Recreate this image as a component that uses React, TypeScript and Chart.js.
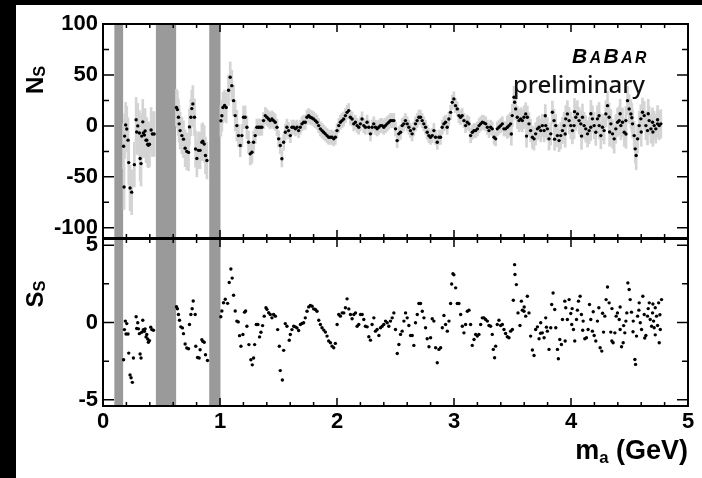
import React, { useEffect, useRef } from "react";
import { Chart, registerables } from "chart.js";
Chart.register(...registerables);

// ---------------- axis / layout values ----------------
const X_LABELS = [0, 1, 2, 3, 4, 5];
const X_MINOR = [0, 0.2, 0.4, 0.6, 0.8, 1, 1.2, 1.4, 1.6, 1.8, 2, 2.2, 2.4, 2.6, 2.8, 3, 3.2, 3.4, 3.6, 3.8, 4, 4.2, 4.4, 4.6, 4.8, 5];
const N_LABELS = [-100, -50, 0, 50, 100];
const N_MINOR = [-100, -75, -50, -25, 0, 25, 50, 75, 100];
const S_LABELS = [-5, 0, 5];
const S_MINOR = [-5, -2.5, 0, 2.5, 5];

// excluded mass regions (grey bands)
const BAND_LO = [0.097, 0.452, 0.908];
const BAND_HI = [0.172, 0.625, 1.004];

// uncertainty on N_S by mass region (step table)
const ERR_MASS = [0.1, 0.45, 0.9, 1.15, 1.3, 1.6, 3.45, 3.9, 4.3];
const ERR_VAL = [22, 18, 15, 11, 8, 7, 11, 13, 14];

// ---------------- N_S (top panel) ----------------
const N_R1_MASS = [0.176, 0.180, 0.185, 0.194, 0.203, 0.214, 0.220, 0.231, 0.245, 0.268, 0.283, 0.288, 0.297, 0.311, 0.317, 0.325, 0.331, 0.340, 0.345, 0.354, 0.360, 0.368, 0.374, 0.382, 0.388, 0.397, 0.411, 0.422, 0.437];
const N_R1 = [-20, -60, -10, 1, -3, -14, -36, -61, -65, -38, 6, -6, 0, -7, -32, -37, -10, 4, -7, -9, -5, -14, -14, -18, -19, -18, -4, -8, -8];

const N_R2_MASS = [0.628, 0.636, 0.645, 0.651, 0.659, 0.674, 0.688, 0.702, 0.716, 0.731, 0.739, 0.751, 0.759, 0.768, 0.782, 0.791, 0.802, 0.816, 0.830, 0.845, 0.853, 0.865, 0.876, 0.888];
const N_R2 = [18, 16, 8.5, 2, -4.6, -9.5, -13, -22, -25, -26, -1, 8.5, 17, 21.6, 8.5, -22.6, -32, -24, -24, -16, -15, -17.7, -29, -34];

const N_R3_MASS = [1.008, 1.016, 1.025, 1.039, 1.053, 1.073, 1.087,
  1.101, 1.116, 1.130, 1.144, 1.158, 1.173, 1.187, 1.201, 1.215, 1.230, 1.244, 1.258, 1.273, 1.287, 1.301, 1.315, 1.330, 1.344, 1.358, 1.372,
  1.387, 1.401, 1.415, 1.429, 1.444, 1.458, 1.472, 1.487, 1.501, 1.515, 1.529, 1.544, 1.558, 1.572, 1.586, 1.601, 1.615, 1.629, 1.644, 1.658,
  1.672, 1.686, 1.701, 1.715, 1.729, 1.743, 1.758, 1.772, 1.786, 1.800, 1.815, 1.829, 1.843, 1.858, 1.872, 1.886, 1.900, 1.915, 1.929, 1.943,
  1.957, 1.972, 1.986, 2.000, 2.015, 2.029, 2.043, 2.057, 2.072, 2.086, 2.100, 2.114, 2.129, 2.143, 2.157, 2.172, 2.186, 2.200, 2.214, 2.229,
  2.243, 2.257, 2.271, 2.286, 2.300, 2.314, 2.329, 2.343, 2.357, 2.371, 2.386, 2.400, 2.414, 2.428, 2.443, 2.457, 2.471, 2.486, 2.500, 2.514,
  2.528, 2.543, 2.557, 2.571, 2.585, 2.600, 2.614, 2.628, 2.642, 2.657, 2.671, 2.685, 2.700, 2.714, 2.728, 2.742, 2.757, 2.771, 2.785, 2.799,
  2.814, 2.828, 2.842, 2.857, 2.871, 2.885, 2.899, 2.914, 2.928, 2.942, 2.956, 2.971, 2.985, 2.999, 3.013, 3.028, 3.042, 3.056, 3.070, 3.085,
  3.099, 3.113, 3.128];
const N_R3 = [5, 10, 18, 20, 18, 35, 47.7,
  39.5, 24.8, 10.1, 0.3, -9.5, -19.3, -9.5, 8.5, 8.5, -1.3, -16, -27.4, -25.8, -16, -9.5, -1.3, -1.3, -1.3, -1.3, 5.2,
  10.1, 8.5, 6.8, 5.2, 6.8, 5.2, 3.6, -1.3, -12.7, -19.3, -32.3, -16, -6.2, -1.3, -4.6, -9.5, -1.3, -1.3, -2.9, -1.3,
  -4.6, -1.3, 2, 3.6, 3.6, 8.5, 10.1, 8.5, 7.8, 6.8, 5.2, 3.6, 0.3, -2.9, -4.6, -6.2, -7.8, -9.5, -11.1, -11.1,
  -11.1, -12.7, -11.1, -4.6, 0.3, 3.6, 5.2, 6.8, 10.1, 13.3, 15, 8.5, 6.8, 2, 3.6, 0.3, -1.3, 2, 6.8, 0.3,
  -1.3, 3.6, -1.3, -7.8, -1.3, 2, -1.3, -2.9, -1.3, 0.3, 0.3, -1.3, 0.3, 2, 3.6, 5.2, 5.2, 5.2, -2.9, -14.4,
  -7.8, -6.2, 0.3, 2, 5.2, 2, -1.3, -4.6, -7.8, -2.9, 2, 5.2, 8.5, 8.5, 5.2, 2, -1.3, -6.2, -9.5, -11.1,
  -9.5, -4.6, -11.1, -16, -11.1, -11.1, -1.3, 2, 3.6, -1.3, 6.8, 13.3, 23.1, 26.5, 19.9, 16.7, 10.1, 8.5, 10.1, 5.2,
  0.3, 3.6, 2];

const N_R4_MASS = [3.142, 3.157, 3.171, 3.185, 3.200, 3.214, 3.228, 3.242, 3.257, 3.271, 3.285, 3.299];
const N_R4 = [-9.5, -6.2, -4.6, -4.6, -2.9, 0.3, 2, 3.6, 3, 2, -1.3, -4.6];

const N_R5_MASS = [3.313, 3.327, 3.342, 3.356, 3.370, 3.384, 3.399, 3.413, 3.427, 3.441, 3.456, 3.470, 3.484, 3.498, 3.513, 3.518, 3.527,
  3.541, 3.556, 3.570, 3.584, 3.598, 3.613, 3.627, 3.641, 3.655, 3.670, 3.684, 3.698, 3.713, 3.727, 3.741, 3.755, 3.770, 3.784, 3.798,
  3.812, 3.827, 3.841, 3.855, 3.869, 3.884, 3.898, 3.912, 3.927, 3.941, 3.955, 3.969, 3.984, 3.998, 4.012, 4.026, 4.041, 4.055, 4.069,
  4.084, 4.098, 4.112, 4.126, 4.141, 4.155, 4.169, 4.183, 4.198, 4.212, 4.226, 4.241, 4.255, 4.269, 4.283, 4.298, 4.312, 4.326, 4.341,
  4.355, 4.369, 4.383, 4.398, 4.412, 4.426, 4.440, 4.455, 4.469, 4.483, 4.497, 4.512, 4.526, 4.540, 4.549, 4.557, 4.569, 4.583, 4.597,
  4.611, 4.626, 4.640, 4.654, 4.668, 4.683, 4.697, 4.711, 4.725, 4.740, 4.754, 4.768];
const N_R5 = [-1.3, -2.9, -11.1, -12.7, -2.9, -1.3, 0.3, 2, -2.9, -2.9, -1.3, 0.3, 2, 10.1, 28.1, 23.2, 16.7,
  8.5, 5.2, 6.9, 5.2, 8.5, 11.8, 8.5, 2, -4.6, -11.1, -12.7, -7.8, -2.9, -1.3, -4.6, 0.3, -4.6, 0.3, -2.9,
  -12.7, -7.8, 13.4, 5.2, 0.3, -9.5, -14.4, -9.5, -4.6, 0.3, 6.9, 11.8, 5.2, 0.3, -4.6, 0.3, 8.5, 11.8, 5.2,
  2, 8.5, 0.3, -2.9, -7.8, -4.6, -1.3, 6.9, 0.3, -6.2, 6.9, 0.3, -9.5, -1.3, -4.6, 11.8, 19.9, 8.5, 2,
  -7.8, -12.7, -2.9, 3.6, 5.2, 0.3, 3.6, -6.2, 5.2, 24.8, 16.7, 11.8, 2, -9.5, -22.5, -29, -12.7, 0.3, 6.9,
  13.4, 10.1, 0.3, -4.6, 5.2, -2.9, 3.6, 0.3, -2.9, 2, 0.3, 2];

const N_EXTRA_MASS = [3.49, 3.62, 3.78, 3.86, 3.95, 4.03, 4.09, 4.17, 4.24, 4.33, 4.42, 4.47, 4.52, 4.60, 4.66, 4.70, 4.74];
const N_EXTRA = [-8, -10, 10, -13, -8, 14, -10, 12, 10, -6, 12, -8, 8, -6, 12, -6, 6];

// ---------------- S_S (bottom panel) ----------------
const S_R1_MASS = [0.176, 0.183, 0.191, 0.197, 0.203, 0.214, 0.220, 0.231, 0.240, 0.251, 0.260, 0.283, 0.288, 0.297, 0.303, 0.311, 0.317, 0.325, 0.331, 0.340, 0.345, 0.354, 0.360, 0.368, 0.374, 0.382, 0.388, 0.397, 0.408, 0.417, 0.431];
const S_R1 = [-2.41, -0.46, 0.09, -0.74, -0.07, -0.74, -1.98, -3.39, -3.57, -3.87, -2.30, 0.37, -0.39, -0.02, -0.41, -0.72, -2.04, -2.30, -0.63, 0.15, -0.46, -0.57, -0.41, -0.93, -0.78, -1.07, -1.28, -1.17, -0.30, -0.46, -0.50];

const S_R2_MASS = [0.628, 0.636, 0.645, 0.654, 0.665, 0.679, 0.688, 0.702, 0.716, 0.731, 0.739, 0.751, 0.762, 0.771, 0.788, 0.793, 0.808, 0.822, 0.830, 0.845, 0.853, 0.865, 0.876, 0.893];
const S_R2 = [1.02, 0.89, 0.52, 0.15, -0.28, -0.35, -0.72, -1.39, -1.65, -1.70, -0.13, 0.52, 0.89, 1.39, 0.52, -1.54, -2.26, -2.30, -1.76, -1.11, -1.22, -1.28, -2.09, -2.46];

const S_R3_MASS = [1.007, 1.016, 1.030, 1.045, 1.065, 1.079, 1.093, 1.104, 1.116, 1.130, 1.144, 1.156, 1.167, 1.179, 1.196, 1.210, 1.219, 1.230, 1.247, 1.264,
  1.276, 1.287, 1.296, 1.310, 1.324, 1.338, 1.350, 1.364, 1.378, 1.393, 1.401, 1.416, 1.430, 1.444, 1.458, 1.473, 1.493, 1.507, 1.515, 1.533,
  1.544, 1.558, 1.572, 1.592, 1.601, 1.615, 1.630, 1.644, 1.658, 1.672];
const S_R3 = [0.37, 0.74, 1.28, 1.5, 1.24, 2.59, 3.46, 2.87, 1.76, 0.74, 0.09, 0.04, -0.85, -1.54, -0.78, 0.67, 0.74, -0.24, -1.43, -2.41,
  -2.74, -2.30, -1.43, -0.13, -0.13, -0.93, -0.63, -0.2, 0.41, 0.96, 0.85, 0.63, 0.52, 0.3, 0.52, 0.41, -0.46, -1.54, -3.11, -3.72,
  -1.8, -0.07, -0.24, -1.15, -0.78, -0.46, -0.24, -0.28, -0.35, -0.52];

const S_R4_MASS = [1.687, 1.701, 1.715, 1.729, 1.744, 1.758, 1.772, 1.787, 1.801, 1.815, 1.829, 1.844, 1.858, 1.872, 1.887, 1.901, 1.915, 1.929, 1.944, 1.958,
  1.972, 1.986, 2.001, 2.015, 2.029, 2.044, 2.058, 2.072, 2.086, 2.101, 2.115, 2.129, 2.144, 2.158, 2.172, 2.186, 2.201, 2.215, 2.229, 2.243,
  2.258, 2.272, 2.286, 2.300, 2.315, 2.329, 2.343, 2.358, 2.372, 2.386, 2.400, 2.415, 2.429, 2.443, 2.457, 2.472, 2.486, 2.500, 2.515, 2.529,
  2.543, 2.557, 2.572, 2.586, 2.600, 2.614, 2.629, 2.643, 2.657, 2.671, 2.686, 2.700, 2.714, 2.729, 2.743, 2.757, 2.771, 2.786, 2.800, 2.814,
  2.828, 2.843, 2.857, 2.871, 2.886, 2.900, 2.914, 2.928, 2.943, 2.957, 2.971, 2.980, 2.991, 2.999, 3.014, 3.028, 3.042, 3.057, 3.071, 3.085,
  3.099, 3.114, 3.128, 3.142, 3.156, 3.171, 3.185, 3.199, 3.213, 3.228, 3.242, 3.256, 3.270, 3.285, 3.299];
const S_R4 = [-0.13, -0.06, -0.02, 0.3, 0.73, 1.01, 1.1, 1.05, 0.88, 0.84, 0.73, 0.15, -0.13, -0.34, -0.49, -0.62, -0.88, -1.2, -1.31, -1.53,
  -1.63, -1.35, -0.13, 0.52, 0.41, 0.62, 0.62, 0.95, 1.53, 0.88, 0.52, 0.24, 0.52, 0.62, -0.24, -0.13, 0.52, 0.52, 0.19, -0.24,
  -0.28, -0.92, -1.14, -0.13, 0.3, -0.56, -0.45, -0.84, -0.34, -0.24, -0.13, 0.09, -0.02, -0.24, 0.09, 0.3, 0.62, -0.45, -2.0, -1.42,
  -0.77, -0.56, 0.09, 0.62, 0.3, -0.19, -0.84, -0.84, -1.48, -0.02, 0.52, 1.23, 1.23, 0.73, 0.3, -0.34, -1.05, -1.57, -0.99, 0.24,
  0.09, -1.63, -2.6, -1.74, -1.63, -0.34, 0.45, -0.13, -0.56, 0.09, 1.23, 2.49, 3.16, 3.08, 2.24, 1.23, 1.23, 0.52, -0.24, -0.67,
  -0.13, 0.73, 0.8, -0.13, -1.48, -1.1, -0.77, -0.88, -0.77, -0.13, 0.3, 0.3, 0.19, 0.09, -0.19];

const S_R5_MASS = [3.313, 3.327, 3.336, 3.347, 3.356, 3.370, 3.384, 3.399, 3.413, 3.427, 3.441, 3.456, 3.470, 3.484, 3.499, 3.507, 3.518, 3.521, 3.533, 3.547,
  3.564, 3.576, 3.584, 3.598, 3.613, 3.627, 3.641, 3.655, 3.670, 3.684, 3.698, 3.713, 3.727, 3.741, 3.755, 3.770, 3.784, 3.798, 3.812, 3.827,
  3.835, 3.847, 3.861, 3.870, 3.884, 3.892, 3.904, 3.918, 3.927, 3.947, 3.955, 3.969, 3.984, 3.998, 4.006, 4.021, 4.032, 4.047, 4.055, 4.064,
  4.078, 4.089, 4.104, 4.118, 4.132, 4.146, 4.158, 4.169, 4.183, 4.198, 4.212, 4.226, 4.238, 4.249, 4.263, 4.278, 4.289, 4.300, 4.312, 4.326,
  4.340, 4.349, 4.360, 4.375, 4.386, 4.397, 4.412, 4.420, 4.432, 4.446, 4.460, 4.469, 4.477, 4.486, 4.497, 4.506, 4.517, 4.532, 4.546, 4.552,
  4.560, 4.569, 4.583, 4.592, 4.603, 4.614, 4.626, 4.640, 4.654, 4.669, 4.677, 4.689, 4.697, 4.706, 4.711, 4.720, 4.731, 4.740, 4.749, 4.754,
  4.763, 4.774];
const S_R5 = [-0.24, -0.77, -1.74, -2.28, -1.53, -0.13, 0.15, -0.19, -0.13, -0.45, -0.71, -0.92, -0.99, -0.56, -0.45, 1.44, 3.74, 3.1, 2.45, 0.62,
  -0.19, 1.38, 0.8, 0.73, 0.41, 1.7, 0.62, -0.88, -1.78, -2.13, -0.45, -0.28, -1.05, -0.02, -0.67, -0.99, 0.3, -0.56, -1.74, -0.34,
  1.16, 1.91, 0.84, -0.34, -1.74, -2.34, -1.1, -1.42, 0.19, 1.38, 0.95, 0.19, 1.48, 0.58, -0.13, -0.45, -1.2, 0.19, 0.8, 1.38,
  1.7, 0.52, 0.09, -1.05, -0.99, -0.45, 1.16, 0.19, -0.56, -0.84, -1.2, 0.09, 0.95, -1.63, -1.85, -0.62, 0.41, 1.48, 2.3, 1.27,
  -0.62, -1.2, -1.31, -0.67, 0.41, 0.62, 0.19, -0.45, -1.57, -1.31, -0.67, 0.09, 0.62, 2.56, 2.13, 1.48, 0.67, 0.09, -2.39, -2.71,
  -0.88, 0.41, 1.27, -0.02, -0.45, 1.7, 0.52, -0.84, 0.41, 1.27, 0.19, -0.24, 0.62, 0.09, -0.34, 0.95, 0.41, -0.19, 1.27, -1.31,
  -0.45, 1.48];

const S_EXTRA_MASS = [3.60, 3.74, 3.79, 3.95, 4.01, 4.10, 4.19, 4.27, 4.35, 4.42, 4.45, 4.53, 4.58, 4.63, 4.66, 4.70, 4.72, 4.76];
const S_EXTRA = [1.0, -0.7, -0.3, -1.2, 0.9, -0.5, 0.7, 0.6, 0.9, 1.0, -0.2, -0.6, 0.8, -1.0, 0.9, 1.2, -0.8, 0.5];

const MASS_N = [...N_R1_MASS, ...N_R2_MASS, ...N_R3_MASS, ...N_R4_MASS, ...N_R5_MASS, ...N_EXTRA_MASS];
const VAL_N = [...N_R1, ...N_R2, ...N_R3, ...N_R4, ...N_R5, ...N_EXTRA];
const MASS_S = [...S_R1_MASS, ...S_R2_MASS, ...S_R3_MASS, ...S_R4_MASS, ...S_R5_MASS, ...S_EXTRA_MASS];
const VAL_S = [...S_R1, ...S_R2, ...S_R3, ...S_R4, ...S_R5, ...S_EXTRA];

function errAt(m: number) {
  let e = ERR_VAL[0];
  for (let i = 0; i < ERR_MASS.length; i++) if (m >= ERR_MASS[i]) e = ERR_VAL[i];
  return e;
}

const FONT_FAMILY = '"Liberation Sans", Arial, sans-serif';
const TICK_FONT = { family: FONT_FAMILY, size: 22, weight: "bold" as const };

function bandsPlugin() {
  return {
    id: "bands",
    beforeDatasetsDraw(chart: any) {
      const { ctx, chartArea: a, scales } = chart;
      ctx.save();
      ctx.fillStyle = "#9a9a9a";
      for (let i = 0; i < BAND_LO.length; i++) {
        const x0 = scales.x.getPixelForValue(BAND_LO[i]);
        const x1 = scales.x.getPixelForValue(BAND_HI[i]);
        ctx.fillRect(x0, a.top, x1 - x0, a.bottom - a.top);
      }
      ctx.restore();
    },
  };
}

function framePlugin(yMinor: number[], yMajor: number[]) {
  return {
    id: "frame",
    afterDraw(chart: any) {
      const { ctx, chartArea: a, scales } = chart;
      ctx.save();
      ctx.strokeStyle = "#000";
      ctx.lineWidth = 2;
      ctx.strokeRect(a.left, a.top, a.right - a.left, a.bottom - a.top);
      ctx.lineWidth = 1.5;
      ctx.beginPath();
      for (const v of X_MINOR) {
        const px = scales.x.getPixelForValue(v);
        const L = X_LABELS.includes(v) ? 8 : 4;
        ctx.moveTo(px, a.bottom);
        ctx.lineTo(px, a.bottom - L);
        ctx.moveTo(px, a.top);
        ctx.lineTo(px, a.top + L);
      }
      for (const v of yMinor) {
        const py = scales.y.getPixelForValue(v);
        const L = yMajor.includes(v) ? 11 : 6;
        ctx.moveTo(a.left, py);
        ctx.lineTo(a.left + L, py);
        ctx.moveTo(a.right, py);
        ctx.lineTo(a.right - L, py);
      }
      ctx.stroke();
      ctx.restore();
    },
  };
}

// remove the automatic label overflow padding so the plot frame sits where the layout puts it
function noPad(s: any) {
  s.paddingTop = 0;
  s.paddingBottom = 0;
  s.paddingLeft = 0;
  s.paddingRight = 0;
}

export default function App() {
  const topRef = useRef<HTMLCanvasElement>(null);
  const botRef = useRef<HTMLCanvasElement>(null);

  useEffect(() => {
    const errBars = MASS_N.map((m, i) => ({ x: m, y: [VAL_N[i] - errAt(m), VAL_N[i] + errAt(m)] }));
    const ptsN = MASS_N.map((m, i) => ({ x: m, y: VAL_N[i] }));
    const ptsS = MASS_S.map((m, i) => ({ x: m, y: VAL_S[i] }));

    const top = new Chart(topRef.current!, {
      type: "scatter",
      data: {
        datasets: [
          {
            type: "scatter",
            data: ptsN,
            order: 0,
            pointRadius: 1.7,
            pointBackgroundColor: "#000",
            pointBorderWidth: 0,
          },
          {
            type: "bar",
            data: errBars as any,
            order: 1,
            backgroundColor: "#d4d4d4",
            borderWidth: 0,
            barThickness: 2,
            grouped: false,
          } as any,
        ],
      },
      options: {
        responsive: false,
        maintainAspectRatio: false,
        animation: false,
        layout: { autoPadding: false, padding: { left: 0, top: 24, right: 14, bottom: 2 } },
        plugins: { legend: { display: false }, tooltip: { enabled: false } },
        scales: {
          x: { type: "linear", min: 0, max: 5, display: false, offset: false },
          y: {
            type: "linear",
            min: -110,
            max: 100,
            afterBuildTicks: (s: any) => { s.ticks = N_LABELS.map((v) => ({ value: v })); },
            afterFit: (s: any) => { s.width = 103; noPad(s); },
            grid: { display: false, drawTicks: false },
            border: { display: false },
            ticks: { font: TICK_FONT, color: "#000", padding: 5 },
          },
        },
      },
      plugins: [bandsPlugin(), framePlugin(N_MINOR, N_LABELS)],
    });

    const bot = new Chart(botRef.current!, {
      type: "scatter",
      data: {
        datasets: [
          {
            data: ptsS,
            pointRadius: 1.7,
            pointBackgroundColor: "#000",
            pointBorderWidth: 0,
          },
        ],
      },
      options: {
        responsive: false,
        maintainAspectRatio: false,
        animation: false,
        layout: { autoPadding: false, padding: { left: 0, top: 9, right: 14, bottom: 0 } },
        plugins: { legend: { display: false }, tooltip: { enabled: false } },
        scales: {
          x: {
            type: "linear",
            min: 0,
            max: 5,
            afterBuildTicks: (s: any) => { s.ticks = X_LABELS.map((v) => ({ value: v })); },
            afterFit: (s: any) => { s.height = 72; noPad(s); },
            grid: { display: false, drawTicks: false },
            border: { display: false },
            ticks: { font: TICK_FONT, color: "#000", padding: 3, maxRotation: 0 },
          },
          y: {
            type: "linear",
            min: -5.4,
            max: 5.4,
            afterBuildTicks: (s: any) => { s.ticks = S_LABELS.map((v) => ({ value: v })); },
            afterFit: (s: any) => { s.width = 103; noPad(s); },
            grid: { display: false, drawTicks: false },
            border: { display: false },
            ticks: { font: TICK_FONT, color: "#000", padding: 5 },
          },
        },
      },
      plugins: [bandsPlugin(), framePlugin(S_MINOR, S_LABELS)],
    });

    return () => {
      top.destroy();
      bot.destroy();
    };
  }, []);

  const titleStyle: React.CSSProperties = {
    position: "absolute",
    font: `bold 24px ${FONT_FAMILY}`,
    lineHeight: 1,
    whiteSpace: "nowrap",
    color: "#000",
  };

  return (
    <div style={{ position: "fixed", left: 0, top: 0, width: 702, height: 478, background: "#000", overflow: "hidden" }}>
      <div style={{ position: "absolute", left: 16, top: 5, width: 686, height: 473, background: "#fff" }} />
      <canvas ref={topRef} width={702} height={240} style={{ position: "absolute", left: 0, top: 0, width: 702, height: 240 }} />
      <canvas ref={botRef} width={702} height={248} style={{ position: "absolute", left: 0, top: 230, width: 702, height: 248 }} />
      <div style={{ ...titleStyle, left: 35, top: 80, transform: "translate(-50%,-50%) rotate(-90deg)" }}>
        N<span style={{ fontSize: "0.68em", verticalAlign: "-0.12em" }}>S</span>
      </div>
      <div style={{ ...titleStyle, left: 35, top: 294, transform: "translate(-50%,-50%) rotate(-90deg)" }}>
        S<span style={{ fontSize: "0.68em", verticalAlign: "-0.12em" }}>S</span>
      </div>
      <div style={{ ...titleStyle, font: `bold 27px ${FONT_FAMILY}`, right: 14, top: 437 }}>
        m<span style={{ fontSize: "0.62em", verticalAlign: "-0.25em" }}>a</span> (GeV)
      </div>
      <div style={{ position: "absolute", right: 53, top: 45, font: `italic bold 21px ${FONT_FAMILY}`, letterSpacing: "2.5px", lineHeight: 1, color: "#000" }}>
        B<span style={{ fontSize: "0.75em" }}>A</span>B<span style={{ fontSize: "0.75em" }}>AR</span>
      </div>
      <div style={{ position: "absolute", right: 57, top: 72, font: `500 24px "Noto Sans", sans-serif`, lineHeight: 1, color: "#111" }}>
        preliminary
      </div>
    </div>
  );
}
